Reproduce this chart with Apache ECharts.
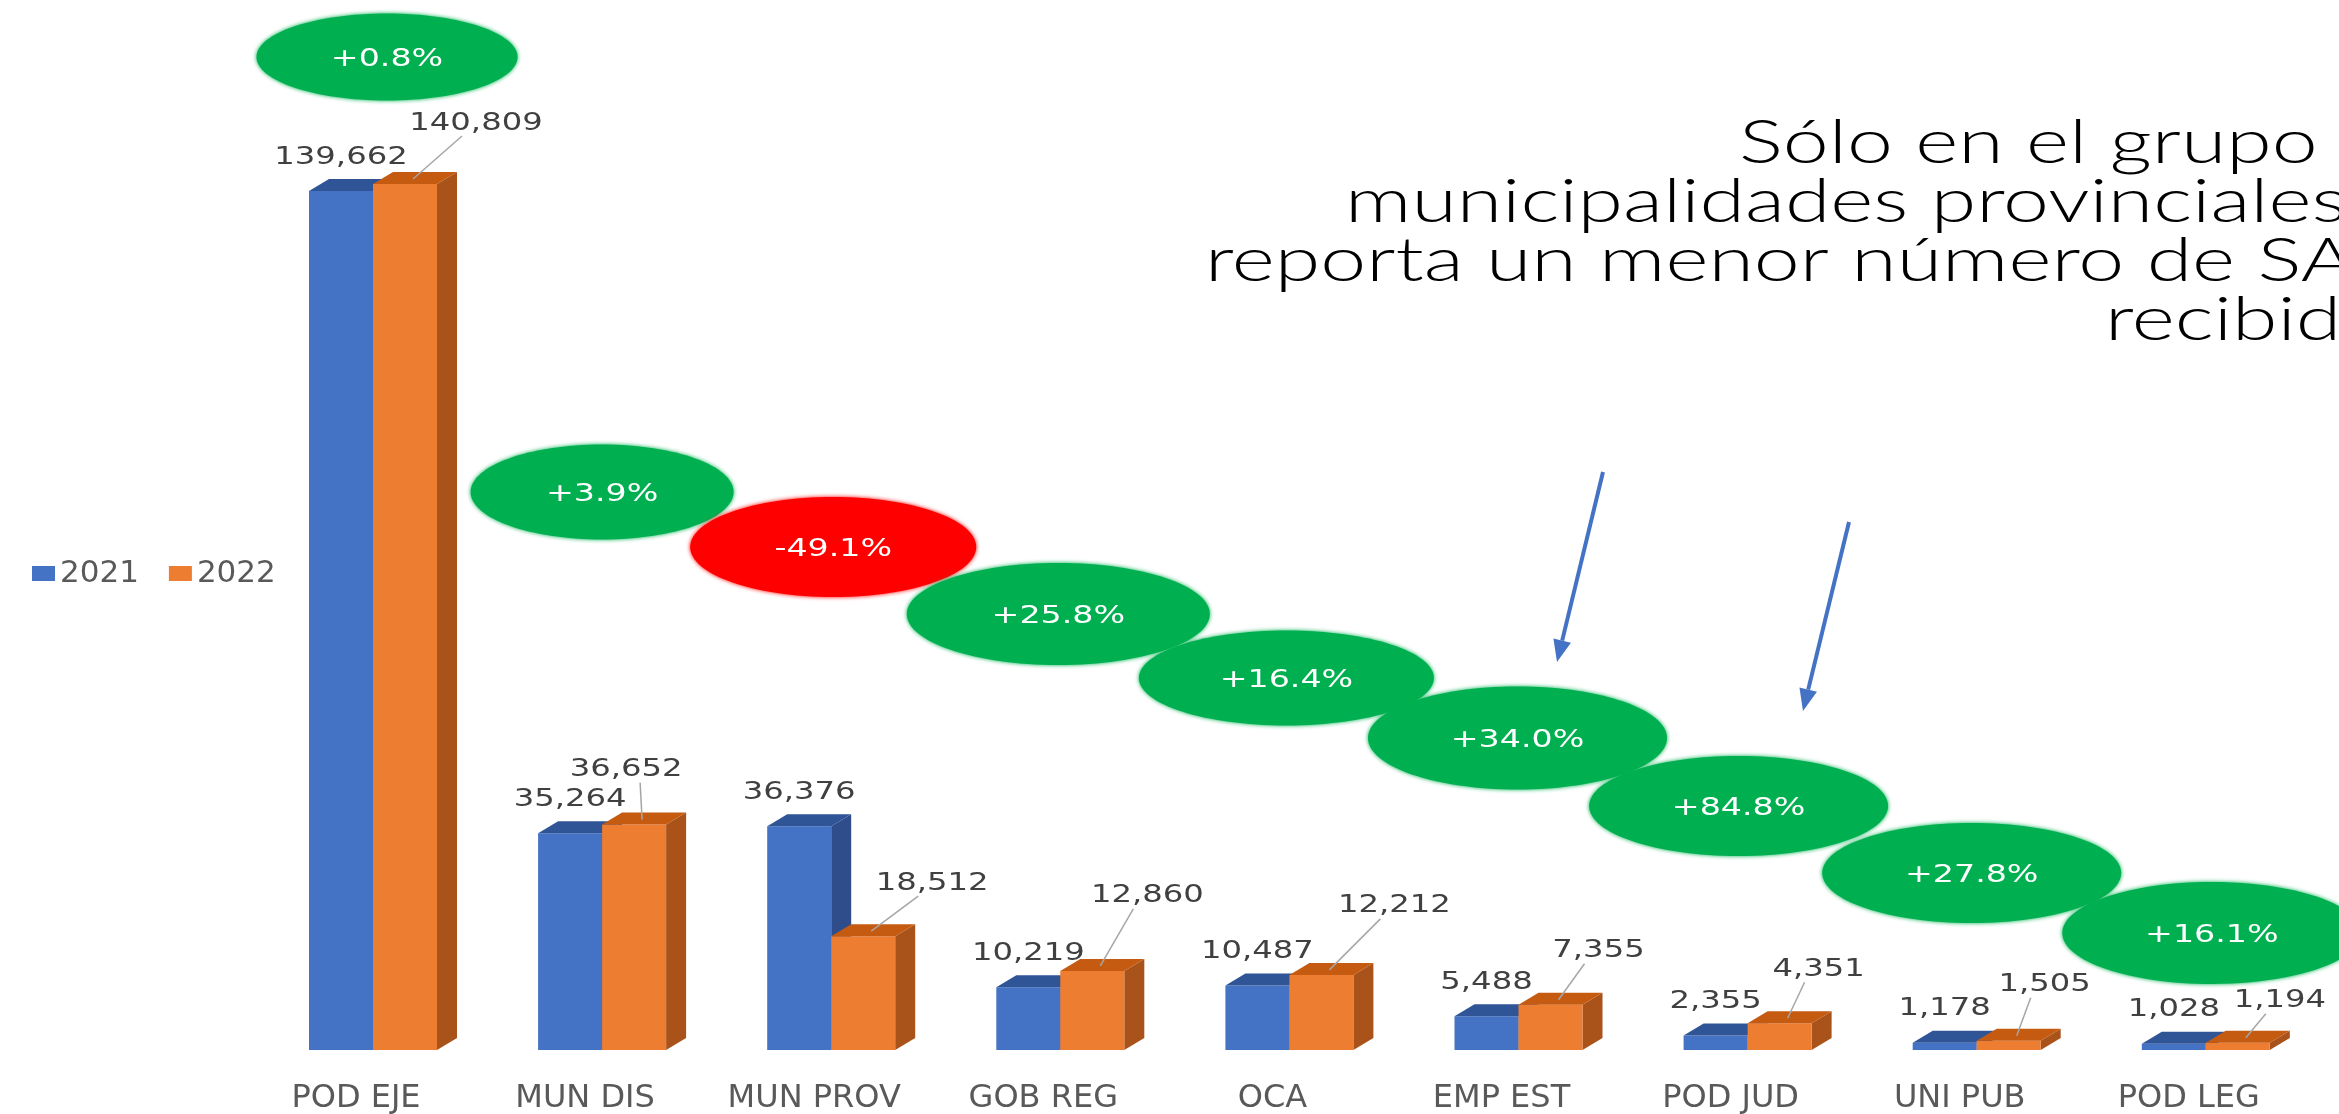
<!DOCTYPE html>
<html>
<head>
<meta charset="utf-8">
<title>SAIP recibidas por grupo</title>
<script src="https://cdn.jsdelivr.net/npm/echarts@6/dist/echarts.min.js"></script>
<style>
  html, body { margin: 0; padding: 0; background: #fff; }
  #chart { width: 2339px; height: 1114px; }
</style>
</head>
<body>
<div id="chart"></div>
<script>
// datos
var categorias = ['POD EJE', 'MUN DIS', 'MUN PROV', 'GOB REG', 'OCA', 'EMP EST', 'POD JUD', 'UNI PUB', 'POD LEG']
var anios = ['2021', '2022']
var valores2021 = [139662, 35264, 36376, 10219, 10487, 5488, 2355, 1178, 1028]
var valores2022 = [140809, 36652, 18512, 12860, 12212, 7355, 4351, 1505, 1194]
var tituloLineas = ['Sólo en el grupo de las', 'municipalidades provinciales se', 'reporta un menor número de SAIP', 'recibidas']

// variacion 2022 vs 2021 (%)
var variacion = valores2021.map(function (v, i) {
  return (valores2022[i] - v) / v * 100
})

// layout / estilos (px)
var BAR_W = 64
var DX = 20 // profundidad 3d
var DY = 12
var caras = [
  { front: '#4472C4', top: '#2F5597', side: '#2E4D8A' }, // 2021
  { front: '#ED7D31', top: '#C55A11', side: '#A9531B' } // 2022
]
// desplazamiento de etiquetas 2022 respecto a la cara superior [dx, dy]
var offsetsNaranja = [[71, -61], [-8, -55], [69, -53], [55, -75], [73, -69], [48, -54], [39, -54], [36, -56], [42, -42]]
// burbujas: [dx, cy, ancho, alto]
var burbujas = [[14, 57, 261, 87], [0, 492, 263, 95], [2, 547, 286, 100], [-2, 614, 303, 102], [-3, 678, 295, 95],
  [-1, 738, 299, 103], [-9, 806, 299, 100], [-5, 873, 299, 100], [6, 933, 299, 102]]
var tituloPos = [[1739, 143], [1345, 202], [1205, 261], [2105, 320]]
var flechas = [[1603, 472, 1557, 662], [1849, 522, 1803, 711]]

function fmt(v) {
  return v.toLocaleString('en-US')
}

function barRenderer(s) {
  var col = caras[s]
  return function (params, api) {
    var i = api.value(0)
    var v = api.value(1)
    var base = api.coord([i, 0])
    var top = api.coord([i, v])
    var x0 = s === 0 ? base[0] - BAR_W : base[0]
    var x1 = x0 + BAR_W
    var yb = base[1]
    var yt = top[1]
    var children = [
      { type: 'polygon', shape: { points: [[x1, yt], [x1 + DX, yt - DY], [x1 + DX, yb - DY], [x1, yb]] }, style: { fill: col.side } },
      { type: 'rect', shape: { x: x0, y: yt, width: BAR_W, height: yb - yt }, style: { fill: col.front } },
      { type: 'polygon', shape: { points: [[x0, yt], [x0 + DX, yt - DY], [x1 + DX, yt - DY], [x1, yt]] }, style: { fill: col.top } }
    ]
    var cx = (x0 + x1) / 2
    var off = s === 0 ? [0, -34] : offsetsNaranja[i]
    var lx = cx + off[0]
    var ly = yt + off[1]
    if (s === 1) {
      // linea guia
      children.push({
        type: 'line',
        shape: { x1: lx + (off[0] > 20 ? -14 : 14), y1: ly + 13, x2: cx + 8, y2: yt - 5 },
        style: { stroke: '#A6A6A6', lineWidth: 1.5 }
      })
    }
    children.push({
      type: 'text',
      x: lx,
      y: ly,
      scaleX: 1.29,
      style: { text: fmt(v), fill: '#404040', font: '25px "DejaVu Sans"', align: 'center', verticalAlign: 'middle' }
    })
    return { type: 'group', children: children }
  }
}

function burbujaRenderer(params, api) {
  var i = api.value(0)
  var p = variacion[i]
  var c = api.coord([i, 0])
  var b = burbujas[i]
  var x = c[0] + b[0]
  var color = p >= 0 ? '#00B050' : '#FF0000'
  return {
    type: 'group',
    children: [
      {
        type: 'ellipse',
        shape: { cx: x, cy: b[1], rx: b[2] / 2, ry: b[3] / 2 },
        style: { fill: color, shadowBlur: 4, shadowColor: color }
      },
      {
        type: 'text',
        x: x,
        y: b[1] + 2,
        scaleX: 1.33,
        style: { text: (p >= 0 ? '+' : '') + p.toFixed(1) + '%', fill: '#FFFFFF', font: '25px "DejaVu Sans"', align: 'center', verticalAlign: 'middle' }
      }
    ]
  }
}

function flecha(f) {
  var ang = Math.atan2(f[3] - f[1], f[2] - f[0])
  var L = 22
  var W = 9
  var bx = f[2] - L * Math.cos(ang)
  var by = f[3] - L * Math.sin(ang)
  var nx = -Math.sin(ang)
  var ny = Math.cos(ang)
  return {
    type: 'group',
    silent: true,
    children: [
      { type: 'line', shape: { x1: f[0], y1: f[1], x2: bx, y2: by }, style: { stroke: '#4472C4', lineWidth: 4 } },
      { type: 'polygon', shape: { points: [[f[2], f[3]], [bx + nx * W, by + ny * W], [bx - nx * W, by - ny * W]] }, style: { fill: '#4472C4' } }
    ]
  }
}

var graficos = tituloLineas.map(function (t, k) {
  return {
    type: 'text',
    silent: true,
    x: tituloPos[k][0],
    y: tituloPos[k][1],
    scaleX: 1.33,
    style: { text: t, font: '300 62px Lato', fill: '#000000', align: 'left', verticalAlign: 'middle' }
  }
}).concat(flechas.map(flecha))

var chart = echarts.init(document.getElementById('chart'))
chart.setOption({
  animation: false,
  backgroundColor: '#ffffff',
  grid: { left: 258.45, right: 18.65, top: 66, bottom: 64, containLabel: false, outerBoundsMode: 'none' },
  legend: {
    data: anios,
    left: 27,
    top: 553,
    icon: 'rect',
    itemWidth: 23,
    itemHeight: 15,
    itemGap: 30,
    textStyle: { fontFamily: 'DejaVu Sans', fontSize: 31, color: '#595959' }
  },
  xAxis: {
    type: 'category',
    data: categorias,
    axisLine: { show: false },
    axisTick: { show: false },
    axisLabel: {
      margin: 33,
      padding: [0, 34, 0, 0],
      fontFamily: 'DejaVu Sans',
      fontSize: 32,
      color: '#595959'
    }
  },
  yAxis: {
    type: 'value',
    min: 0,
    max: 160000,
    show: false,
    splitLine: { show: false }
  },
  series: [
    {
      name: anios[0],
      type: 'custom',
      itemStyle: { color: caras[0].front },
      encode: { x: 0, y: 1 },
      data: valores2021.map(function (v, i) { return [i, v] }),
      renderItem: barRenderer(0)
    },
    {
      name: anios[1],
      type: 'custom',
      itemStyle: { color: caras[1].front },
      encode: { x: 0, y: 1 },
      data: valores2022.map(function (v, i) { return [i, v] }),
      renderItem: barRenderer(1)
    },
    {
      name: 'variacion',
      type: 'custom',
      z: 5,
      encode: { x: 0, y: 1 },
      data: variacion.map(function (p, i) { return [i, 0] }),
      renderItem: burbujaRenderer
    }
  ],
  graphic: { elements: graficos }
})
</script>
</body>
</html>
